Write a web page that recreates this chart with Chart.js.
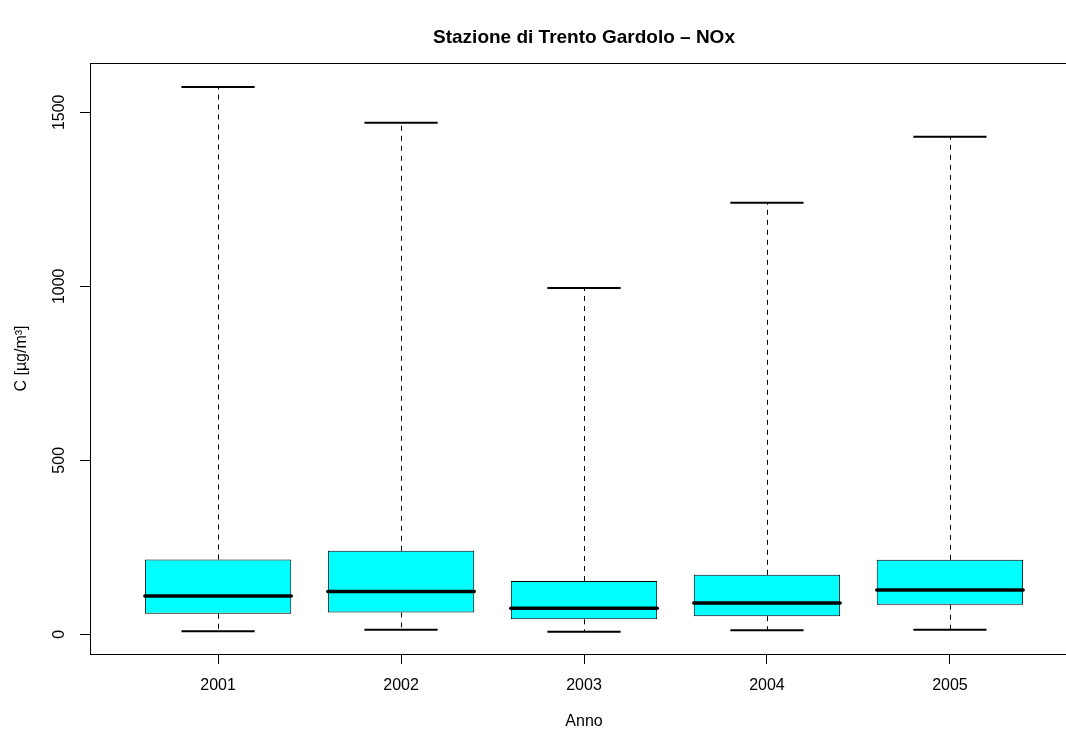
<!DOCTYPE html>
<html>
<head>
<meta charset="utf-8">
<script src="https://cdn.jsdelivr.net/npm/chart.js@4.4.0/dist/chart.umd.min.js"></script>
<style>
  html, body { margin: 0; padding: 0; background: #fff; overflow: hidden; }
  #wrap { width: 1168px; height: 731px; }
</style>
</head>
<body>
<div id="wrap"><canvas id="c" width="1168" height="731"></canvas></div>
<script>
// boxplot stats (ug/m3)
var years = ['2001', '2002', '2003', '2004', '2005'];
var whiskerLow = [9, 13, 7, 12, 13];
var q1 = [59, 63, 43, 52, 85];
var median = [110, 123, 75, 90, 127];
var q3 = [215, 240, 153, 171, 214];
var whiskerHigh = [1573, 1470, 995, 1240, 1430];
var yTicks = [0, 500, 1000, 1500];

var chartTitle = 'Stazione di Trento Gardolo \u2013 NOx';
var FONT = "'Liberation Sans', Arial, Helvetica, sans-serif";
var BOX_HALF = 0.4;    // boxwex 0.8
var CAP_HALF = 0.2;    // staple half width

var boxExtras = {
    id: 'boxExtras',
    beforeDatasetsDraw: function (chart) {
        var ctx = chart.ctx;
        var x = chart.scales.x, y = chart.scales.y;
        ctx.save();
        ctx.strokeStyle = '#000';
        for (var i = 0; i < years.length; i++) {
            var cx = Math.round(x.getPixelForValue(i + 1)) + 0.5;
            // dashed whiskers
            ctx.lineWidth = 1;
            ctx.setLineDash([5, 5]);
            ctx.beginPath();
            ctx.moveTo(cx, y.getPixelForValue(q3[i]));
            ctx.lineTo(cx, y.getPixelForValue(whiskerHigh[i]));
            ctx.moveTo(cx, y.getPixelForValue(q1[i]));
            ctx.lineTo(cx, y.getPixelForValue(whiskerLow[i]));
            ctx.stroke();
            // staples
            ctx.setLineDash([]);
            ctx.lineWidth = 2;
            ctx.beginPath();
            ctx.moveTo(x.getPixelForValue(i + 1 - CAP_HALF), y.getPixelForValue(whiskerHigh[i]));
            ctx.lineTo(x.getPixelForValue(i + 1 + CAP_HALF), y.getPixelForValue(whiskerHigh[i]));
            ctx.moveTo(x.getPixelForValue(i + 1 - CAP_HALF), y.getPixelForValue(whiskerLow[i]));
            ctx.lineTo(x.getPixelForValue(i + 1 + CAP_HALF), y.getPixelForValue(whiskerLow[i]));
            ctx.stroke();
        }
        ctx.restore();
    },
    afterDatasetsDraw: function (chart) {
        var ctx = chart.ctx;
        var x = chart.scales.x, y = chart.scales.y;
        var a = chart.chartArea;
        ctx.save();
        // medians
        ctx.strokeStyle = '#000';
        ctx.lineWidth = 3.5;
        ctx.lineCap = 'round';
        for (var i = 0; i < years.length; i++) {
            var my = y.getPixelForValue(median[i]);
            ctx.beginPath();
            ctx.moveTo(x.getPixelForValue(i + 1 - BOX_HALF), my);
            ctx.lineTo(x.getPixelForValue(i + 1 + BOX_HALF), my);
            ctx.stroke();
        }
        // frame
        ctx.lineCap = 'butt';
        ctx.lineWidth = 1;
        ctx.strokeRect(Math.round(a.left) + 0.5, Math.round(a.top) + 0.5,
                       Math.round(a.right - a.left), Math.round(a.bottom - a.top));
        // y tick labels, rotated like R's las=0
        ctx.fillStyle = '#000';
        ctx.font = '16px ' + FONT;
        ctx.textAlign = 'center';
        ctx.textBaseline = 'middle';
        for (var j = 0; j < yTicks.length; j++) {
            ctx.save();
            ctx.translate(60, y.getPixelForValue(yTicks[j]));
            ctx.rotate(-Math.PI / 2);
            ctx.fillText(String(yTicks[j]), 0, 0);
            ctx.restore();
        }
        // main title, centred over the plot region like R does
        ctx.font = 'bold 19px ' + FONT;
        ctx.fillText(chartTitle, (a.left + a.right) / 2, 38);
        ctx.restore();
    }
};

var boxData = years.map(function (yr, i) {
    return { x: i + 1, y: [q1[i], q3[i]] };
});

new Chart(document.getElementById('c'), {
    type: 'bar',
    data: {
        datasets: [{
            data: boxData,
            backgroundColor: '#00ffff',
            borderColor: '#000',
            borderWidth: 1,
            borderSkipped: false,
            barPercentage: 0.8,
            categoryPercentage: 1.0
        }]
    },
    plugins: [boxExtras],
    options: {
        responsive: false,
        animation: false,
        events: [],
        layout: { padding: { left: 0, right: 90, top: 63, bottom: 0 } },
        plugins: {
            legend: { display: false },
            tooltip: { enabled: false },
            title: { display: false }
        },
        scales: {
            x: {
                type: 'linear',
                offset: false,
                min: 0.3,
                max: 5.7,
                afterBuildTicks: function (s) {
                    s.ticks = years.map(function (yr, i) { return { value: i + 1 }; });
                },
                afterFit: function (s) { s.height = 77; },
                ticks: {
                    color: '#000',
                    font: { family: FONT, size: 16 },
                    padding: 12,
                    maxRotation: 0,
                    autoSkip: false,
                    callback: function (v) { return years[v - 1]; }
                },
                grid: { offset: false, drawOnChartArea: false, drawTicks: true, tickLength: 10, color: '#000' },
                border: { display: false },
                title: {
                    display: true,
                    text: 'Anno',
                    color: '#000',
                    font: { family: FONT, size: 16, lineHeight: 1 },
                    padding: { top: 0, bottom: 1 }
                }
            },
            y: {
                min: -56.6,
                max: 1641.7,
                afterBuildTicks: function (s) {
                    s.ticks = yTicks.map(function (v) { return { value: v }; });
                },
                afterFit: function (s) { s.width = 90; },
                ticks: { display: false },
                grid: { drawOnChartArea: false, drawTicks: true, tickLength: 10, color: '#000' },
                border: { display: false },
                title: {
                    display: true,
                    text: 'C [\u00b5g/m\u00b3]',
                    color: '#000',
                    font: { family: FONT, size: 16, lineHeight: 1 },
                    padding: { top: 14, bottom: 0 }
                }
            }
        }
    }
});
</script>
</body>
</html>
